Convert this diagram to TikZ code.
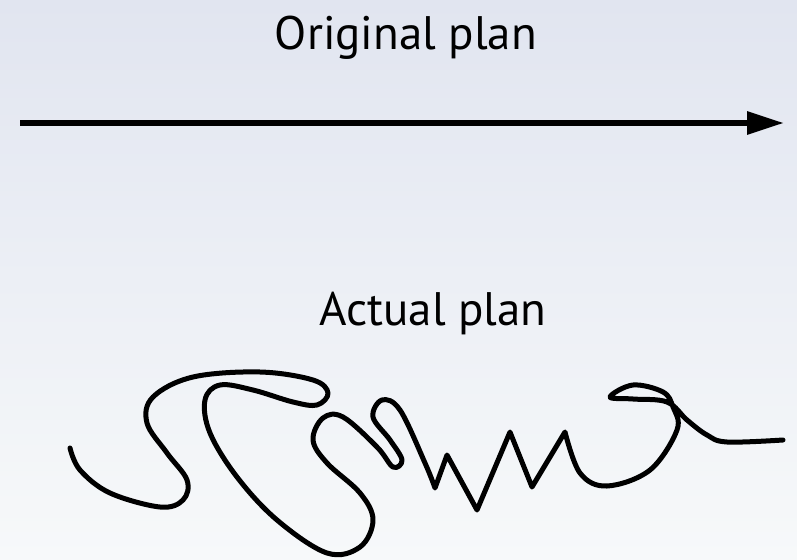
\documentclass[tikz,border=0pt]{standalone}
\usepackage{fontspec}
\setmainfont{PT Sans}
\usepackage{tikz}
\usetikzlibrary{arrows.meta}
\definecolor{bgtop}{RGB}{225, 229, 240}
\definecolor{bgbot}{RGB}{247, 249, 250}

\begin{document}
\begin{tikzpicture}[
  x=1pt, y=-1pt,
  lbl/.style={font=\fontsize{47}{52}\selectfont, inner sep=0pt, anchor=base},
  arr/.style={-{Triangle[length=37pt, width=22pt]}, line width=6pt},
  squiggle/.style={line width=5pt, line cap=round, line join=round}
]
  % background
  \shade[top color=bgtop, bottom color=bgbot] (0,0) rectangle (797,559);
  \useasboundingbox (0,0) rectangle (797,559);

  \node[lbl] (orig) at (406,50) {Original plan};
  \node[lbl] (actual) at (433,325) {Actual plan};

  % straight plan
  \coordinate (os) at (20,123);
  \coordinate (oe) at (784,123);
  \draw[arr] (os) -- (oe);

  % the real path
  \coordinate (as) at (70,448);
  \coordinate (ae) at (783,440);
  \draw[squiggle] (as)
    -- plot[smooth, tension=0.6] coordinates {
      (70,448) (80,470) (110,493) (160,507) (183,500) (187,480)
      (167,453) (147,423) (153,397) (193,377) (260,372) (313,380)
      (328,393) (317,405) (293,402) (253,390) (220,385) (205,400)
      (210,433) (237,477) (277,520) (327,553) (360,547) (373,520)
      (360,493) (327,463) (313,440) (323,418) (343,417) (377,447)
      (393,467) (402,460) (390,440) (373,417) (382,400) (400,410)
      (425,463) (435,488)}
    -- (447,455) -- (477,510) -- (510,432) -- (532,487) -- (565,432)
    -- plot[smooth, tension=0.6] coordinates {
      (565,432) (580,473) (607,486) (650,470) (677,430) (673,407)
      (663,392) (633,385) (610,397) (633,399) (667,402) (687,420)
      (707,435) (727,442) (783,440)}
    -- (ae);
\end{tikzpicture}
\end{document}
